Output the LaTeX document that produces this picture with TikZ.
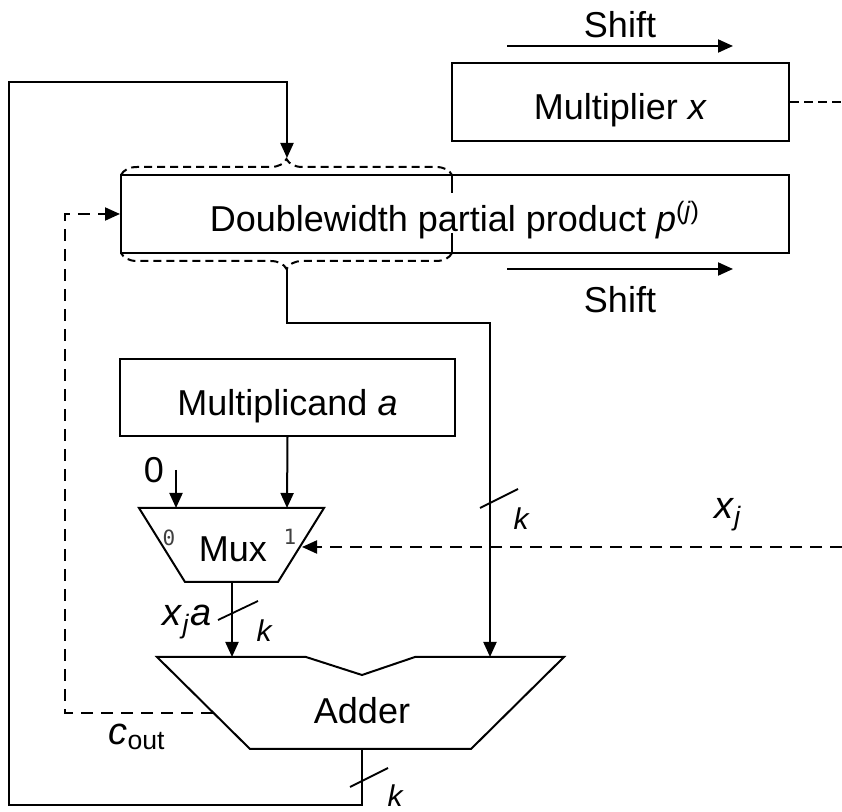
\documentclass[tikz,border=0pt]{standalone}
\usepackage{fontspec}
\setmainfont{Liberation Sans}
\newfontfamily\smallmono{DejaVu Sans Mono}
\usetikzlibrary{arrows.meta,decorations.pathreplacing,calc}

\tikzset{
    regbox/.style={draw, line width=1pt, minimum height=39pt, inner sep=0pt,
        text height=22pt, text depth=4pt},
    sigline/.style={line width=1pt, dash pattern=on 6pt off 4pt},
    busmark/.style={line width=0.9pt},
    biglabel/.style={font=\fontsize{19}{22}\selectfont},
    klabel/.style={font=\fontsize{15}{17}\selectfont\itshape},
    portnum/.style={font=\fontsize{10.5}{12}\smallmono, text=black!75}
}

\begin{document}
\begin{tikzpicture}[x=0.5pt, y=-0.5pt, line width=1pt,
    >={Triangle[length=7.5pt,width=6.5pt]},
    font=\fontsize{18}{21}\selectfont]

    \useasboundingbox (0,0) rectangle (842,812);

    % Registers
    \node[regbox, minimum width=168.5pt] (mplier) at (620.5,102) {Multiplier \textit{x}};
    \node[regbox, minimum width=334pt] (pprod) at (455,214) {Doublewidth partial product \textit{p}\textsuperscript{(\textit{j})}};
    \node[regbox, minimum width=167.5pt, minimum height=38.5pt] (mcand) at (287.5,397.5) {Multiplicand \textit{a}};

    % Shift arrows
    \coordinate (shtopa) at (507,46);
    \coordinate (shtopb) at (733,46);
    \coordinate (shbota) at (507,269);
    \coordinate (shbotb) at (733,269);
    \draw[->] (shtopa) -- (shtopb) node[midway, above] (shtoptxt) {Shift};
    \draw[->] (shbota) -- (shbotb) node[midway, below=5pt] (shbottxt) {Shift};

    % Dashed braces round the upper half
    \draw[dash pattern=on 4pt off 2.5pt, decorate, decoration={brace, amplitude=8pt}]
        (121,175) -- (452,175);
    \draw[dash pattern=on 4pt off 2.5pt, decorate, decoration={brace, amplitude=8pt}]
        (452,253) -- (121,253);
    \draw (452,175) -- (452,193);
    \draw (452,233) -- (452,253);
    \coordinate (pttip) at (287,158);
    \coordinate (pbtip) at (287,269);

    % Mux
    \coordinate (muxin0) at (176,508);
    \coordinate (muxin1) at (287,508);
    \coordinate (muxsel) at (302,547);
    \coordinate (muxout) at (232,582);
    \draw (139,508) -- (324,508) -- (278,582) -- (185,582) -- cycle;
    \node (muxtxt) at (233,549) {Mux};
    \node[portnum] (mux0) at (169,538) {0};
    \node[portnum] (mux1) at (290,537) {1};

    % Adder
    \coordinate (addina) at (232,657);
    \coordinate (addinb) at (490,657);
    \coordinate (addout) at (362,749);
    \coordinate (addcout) at (213,713);
    \draw (157,657) -- (306,657) -- (362,675) -- (415,657) -- (564,657)
        -- (471,749) -- (250,749) -- cycle;
    \node (addtxt) at (362,711) {Adder};

    % Inputs of the mux
    \node (zero) at (154,470) {0};
    \coordinate (zerosrc) at (176,470);
    \draw[->] (zerosrc) -- (muxin0);
    \draw[->] (mcand.south) -- (muxin1);
    \coordinate (xjsrc) at (842,547);
    \draw[sigline, ->] (xjsrc) -- (muxsel);
    \node[biglabel] (xjtxt) at (728,515) {\textit{x}\textsubscript{\textit{j}}};

    % Multiplier bit out
    \coordinate (mplierout) at (842,102);
    \draw[line width=0.8pt, dash pattern=on 4.5pt off 2.5pt] (mplier.east) -- (mplierout);

    % Adder inputs
    \draw[->] (muxout) -- (addina);
    \draw[busmark] (218,620) -- (258,601);
    \node[klabel] (kmux) at (264,631) {k};
    \node[biglabel] (xjatxt) at (187,622) {\textit{x}\textsubscript{\textit{j}}\textit{a}};

    \draw[->] (pbtip) -- ++(0,54) -| (addinb);
    \draw[busmark] (480,508) -- (518,489);
    \node[klabel] (kpp) at (521,519) {k};

    % Carry out
    \draw[sigline, ->] (addcout) -- (65,713) |- (pprod.west);
    \node[biglabel] (couttxt) at (137,737) {\textit{c}\textsubscript{out}};

    % Sum back into the upper half
    \draw[->] (addout) |- (9,805) |- (287,82) -- (pttip);
    \draw[busmark] (350,787) -- (388,768);
    \node[klabel] (kadd) at (395,796) {k};

\end{tikzpicture}
\end{document}
